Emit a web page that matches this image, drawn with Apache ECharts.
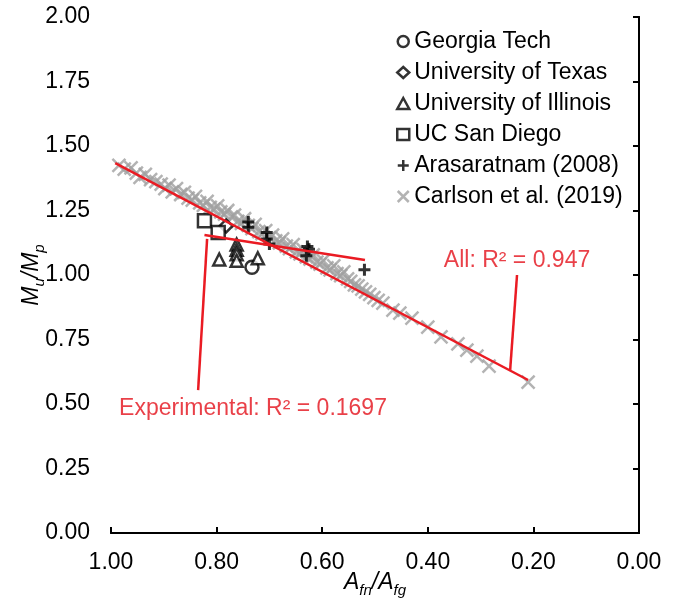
<!DOCTYPE html>
<html><head><meta charset="utf-8">
<script src="https://cdn.jsdelivr.net/npm/echarts@6/dist/echarts.min.js"></script>
<style>html,body{margin:0;padding:0;background:#fff}#c{width:680px;height:607px}</style>
</head><body><div id="c"></div><script>
// ---- data ----
const georgiaTech = [[0.733, 1.03]];
const univTexas = [[0.782, 1.19]];
const univIllinois = [[0.795, 1.06], [0.762, 1.118], [0.762, 1.098], [0.762, 1.08], [0.762, 1.055], [0.722, 1.065]];
const ucSanDiego = [[0.823, 1.21], [0.797, 1.165]];
const arasaratnam = [[0.740, 1.205], [0.740, 1.185], [0.705, 1.165], [0.705, 1.14], [0.700, 1.12], [0.628, 1.11], [0.625, 1.10], [0.630, 1.075], [0.520, 1.02]];
const carlson = [
  [0.985,1.425],[0.975,1.410],[0.962,1.415],[0.952,1.395],[0.945,1.378],[0.935,1.390],[0.925,1.370],[0.915,1.362],
  [0.905,1.352],[0.898,1.335],[0.890,1.348],[0.884,1.322],[0.876,1.335],[0.868,1.312],[0.861,1.320],[0.854,1.298],
  [0.846,1.290],[0.840,1.305],[0.832,1.280],[0.825,1.270],[0.818,1.285],[0.812,1.262],[0.805,1.255],[0.798,1.268],
  [0.792,1.245],[0.785,1.236],[0.779,1.250],[0.772,1.225],[0.766,1.232],[0.760,1.208],[0.753,1.200],[0.747,1.218],
  [0.740,1.192],[0.733,1.180],[0.727,1.196],[0.720,1.168],[0.714,1.160],[0.707,1.172],[0.700,1.145],[0.694,1.155],
  [0.688,1.132],[0.681,1.125],[0.675,1.140],[0.668,1.112],[0.662,1.102],[0.655,1.118],[0.649,1.090],[0.642,1.082],
  [0.636,1.098],[0.630,1.070],[0.623,1.062],[0.617,1.078],[0.610,1.050],[0.604,1.042],[0.598,1.056],[0.591,1.028],
  [0.585,1.020],[0.578,1.035],[0.572,1.005],[0.565,0.998],[0.559,1.012],[0.552,0.985],[0.546,0.975],[0.539,0.962],
  [0.532,0.958],[0.525,0.945],[0.518,0.935],[0.510,0.925],[0.502,0.912],[0.494,0.902],[0.485,0.891],[0.466,0.864],
  [0.453,0.852],[0.430,0.833],[0.400,0.798],[0.375,0.760],[0.343,0.733],[0.326,0.709],[0.307,0.686],[0.284,0.647],
  [0.210,0.585]
];
const trendAll = [[0.992, 1.434], [0.210, 0.593]];
const trendExp = [[0.823, 1.155], [0.519, 1.058]];
const labelAll = [0.231, 1.055];
const labelExp = [0.731, 0.482];
const leaderAll = [[0.231, 1.0], [0.244, 0.632]];
const leaderExp = [[0.818, 1.140], [0.835, 0.554]];
const textAll = 'All: R² = 0.947';
const textExp = 'Experimental: R² = 0.1697';
const xTicks = {min: 0, max: 1, step: 0.2};
const yTicks = {min: 0, max: 2, step: 0.25};

// ---- styles ----
const FONT = 'Liberation Sans, Arial, sans-serif';
const RED = '#ea1b23';
const RED_TEXT = '#e3101a';
const GREY = '#a0a0a0';
const PLUS = 'path://M5,0L5,10M0,5L10,5';
const CROSS = 'path://M0,0L10,10M10,0L0,10';
const fmt = v => v.toFixed(2);
const axisLineStyle = {color: '#000', width: 2};
const rich = {
  m: {fontFamily: FONT, fontSize: 23, fontStyle: 'italic', color: '#000', lineHeight: 30},
  s: {fontFamily: FONT, fontSize: 15, fontStyle: 'italic', color: '#000', verticalAlign: 'bottom', lineHeight: 17}
};

const openMarker = {color: '#fff', borderColor: '#000', borderWidth: 2.5};

const chart = echarts.init(document.getElementById('c'), null, {renderer: 'canvas'});
chart.setOption({
  animation: false,
  backgroundColor: '#fff',
  textStyle: {fontFamily: FONT},
  grid: {left: 111, right: 41, top: 17, bottom: 74, containLabel: false},
  legend: {
    orient: 'vertical', left: 391, top: 25, itemWidth: 12, itemHeight: 11, itemGap: 8,
    symbolKeepAspect: true,
    textStyle: {fontFamily: FONT, fontSize: 23, color: '#000', lineHeight: 23},
    itemStyle: {borderWidth: 2.5},
    data: ['Georgia Tech', 'University of Texas', 'University of Illinois', 'UC San Diego', 'Arasaratnam (2008)', 'Carlson et al. (2019)']
  },
  xAxis: [{
    type: 'value', min: xTicks.min, max: xTicks.max, interval: xTicks.step, inverse: true, position: 'bottom',
    axisLine: {show: true, lineStyle: axisLineStyle},
    axisTick: {show: true, inside: true, length: 6, lineStyle: axisLineStyle},
    axisLabel: {margin: 18, fontSize: 23, color: '#000', fontFamily: FONT, formatter: fmt},
    splitLine: {show: false},
    name: '{m|A}{s|fn}{m|/A}{s|fg}', nameLocation: 'middle', nameGap: 35, nameMoveOverlap: false,
    nameTextStyle: {rich: rich}
  }, {
    type: 'value', min: xTicks.min, max: xTicks.max, inverse: true, position: 'top',
    axisLine: {show: true, lineStyle: axisLineStyle}, axisTick: {show: false}, axisLabel: {show: false}, splitLine: {show: false}
  }],
  yAxis: [{
    type: 'value', min: yTicks.min, max: yTicks.max, interval: yTicks.step, position: 'left',
    axisLine: {show: true, lineStyle: axisLineStyle}, axisTick: {show: false},
    axisLabel: {margin: 21, fontSize: 23, color: '#000', fontFamily: FONT, formatter: fmt},
    splitLine: {show: false},
    name: '{m|M}{s|u}{m|/M}{s|p}', nameLocation: 'middle', nameGap: 64, nameRotate: 90, nameMoveOverlap: false,
    nameTextStyle: {rich: rich}
  }, {
    type: 'value', min: yTicks.min, max: yTicks.max, interval: yTicks.step, position: 'right',
    axisLine: {show: true, lineStyle: axisLineStyle},
    axisTick: {show: true, inside: true, length: 6, lineStyle: axisLineStyle},
    axisLabel: {show: false}, splitLine: {show: false}
  }],
  series: [
    {name: 'Carlson et al. (2019)', type: 'scatter', data: carlson, symbol: CROSS, symbolSize: 13, z: 2, symbolKeepAspect: true,
      itemStyle: {color: GREY, borderColor: GREY, borderWidth: 2.5}},
    {name: 'Georgia Tech', type: 'scatter', data: georgiaTech, symbol: 'circle', symbolSize: 13, z: 3, symbolKeepAspect: true, itemStyle: openMarker},
    {name: 'University of Texas', type: 'scatter', data: univTexas, symbol: 'diamond', symbolSize: 13, z: 3, symbolKeepAspect: true, itemStyle: openMarker},
    {name: 'University of Illinois', type: 'scatter', data: univIllinois, symbol: 'triangle', symbolSize: 12, z: 3, symbolKeepAspect: true, itemStyle: openMarker},
    {name: 'UC San Diego', type: 'scatter', data: ucSanDiego, symbol: 'rect', symbolSize: 13, z: 3, symbolKeepAspect: true, itemStyle: openMarker},
    {name: 'Arasaratnam (2008)', type: 'scatter', data: arasaratnam, symbol: PLUS, symbolSize: 12, z: 3, symbolKeepAspect: true,
      itemStyle: {color: '#000', borderColor: '#000', borderWidth: 3}},
    {name: 'trendAll', type: 'line', data: trendAll, symbol: 'none', z: 4, lineStyle: {color: RED, width: 2.5}},
    {name: 'trendExp', type: 'line', data: trendExp, symbol: 'none', z: 4, lineStyle: {color: RED, width: 2.5}},
    {name: 'leaderAll', type: 'line', data: leaderAll, symbol: 'none', z: 4, lineStyle: {color: RED, width: 2.5}},
    {name: 'leaderExp', type: 'line', data: leaderExp, symbol: 'none', z: 4, lineStyle: {color: RED, width: 2.5}},
    {name: 'labels', type: 'scatter', symbolSize: 0, z: 5, silent: true,
      data: [
        {value: labelAll, label: {formatter: textAll}},
        {value: labelExp, label: {formatter: textExp}}
      ],
      label: {show: true, position: 'inside', color: RED_TEXT, fontSize: 23, fontFamily: FONT}
    }
  ]
});
</script></body></html>
